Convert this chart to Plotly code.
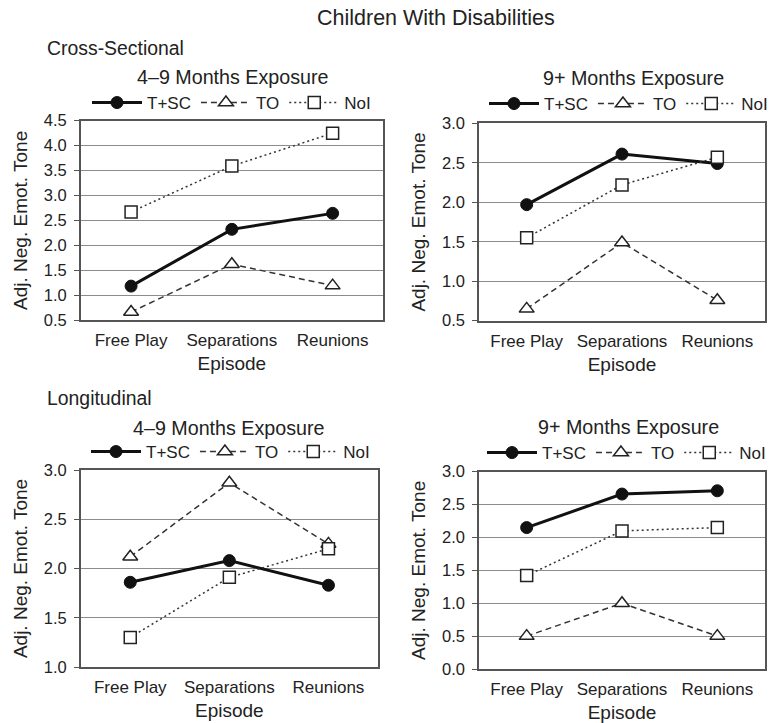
import plotly.graph_objects as go

W, H = 775, 723

episodes = ["Free Play", "Separations", "Reunions"]
series_names = ["T+SC", "TO", "NoI"]

# Cross-sectional, 4-9 months exposure
cs_4_9_tsc = [1.18, 2.32, 2.64]
cs_4_9_to = [0.66, 1.62, 1.19]
cs_4_9_noi = [2.67, 3.59, 4.25]
# Cross-sectional, 9+ months exposure
cs_9p_tsc = [1.97, 2.61, 2.49]
cs_9p_to = [0.65, 1.49, 0.76]
cs_9p_noi = [1.55, 2.22, 2.57]
# Longitudinal, 4-9 months exposure
lg_4_9_tsc = [1.86, 2.08, 1.83]
lg_4_9_to = [2.12, 2.87, 2.25]
lg_4_9_noi = [1.30, 1.91, 2.20]
# Longitudinal, 9+ months exposure
lg_9p_tsc = [2.15, 2.66, 2.71]
lg_9p_to = [0.50, 1.00, 0.50]
lg_9p_noi = [1.42, 2.10, 2.15]

main_title = "Children With Disabilities"
section_titles = ["Cross-Sectional", "Longitudinal"]
panel_titles = ["4\u20139 Months Exposure", "9+ Months Exposure",
                "4\u20139 Months Exposure", "9+ Months Exposure"]
y_title = "Adj. Neg. Emot. Tone"
x_title = "Episode"

panels = [
    (cs_4_9_tsc, cs_4_9_to, cs_4_9_noi, (0.5, 4.5)),
    (cs_9p_tsc, cs_9p_to, cs_9p_noi, (0.5, 3.0)),
    (lg_4_9_tsc, lg_4_9_to, lg_4_9_noi, (1.0, 3.0)),
    (lg_9p_tsc, lg_9p_to, lg_9p_noi, (0.0, 3.0)),
]

# pixel boxes (left, right, top, bottom) of each plot area
boxes = [
    (80.7, 383, 120.7, 320),
    (479, 765, 123.3, 320.7),
    (80.7, 378, 470, 667),
    (479, 765, 471.7, 669),
]
legend_pos = [(87, 103), (484, 104), (86, 452), (482, 453)]
ptitle_pos = [(233, 77), (633, 78), (229, 428), (628, 427)]

FONT = "Liberation Sans, Arial, Helvetica, sans-serif"
TXT = "#222222"
AX = "#555555"

fig = go.Figure()

styles = [
    dict(line=dict(color="#111111", width=3, dash="solid"),
         marker=dict(symbol="circle", size=12, color="#111111",
                     line=dict(color="#111111", width=1))),
    dict(line=dict(color="#333333", width=1.5, dash="6px,4px"),
         marker=dict(symbol="triangle-up", size=13, color="white",
                     line=dict(color="#222222", width=1.5))),
    dict(line=dict(color="#333333", width=1.5, dash="2px,3px"),
         marker=dict(symbol="square", size=12, color="white",
                     line=dict(color="#222222", width=1.5))),
]

layout = {}
annotations = []
for i, (tsc, to, noi, yr) in enumerate(panels):
    n = "" if i == 0 else str(i + 1)
    leg = "legend" if i == 0 else f"legend{i+1}"
    for name, vals, st in zip(series_names, [tsc, to, noi], styles):
        fig.add_trace(go.Scatter(
            x=episodes, y=vals, name=name, mode="lines+markers",
            xaxis="x" + n, yaxis="y" + n, legend=leg,
            line=st["line"], marker=st["marker"], cliponaxis=False))
    l, r, t, b = boxes[i]
    layout["xaxis" + n] = dict(
        domain=[l / W, r / W], anchor="y" + n, type="category",
        range=[-0.5, 2.5], showgrid=False, showline=True, mirror=True,
        linecolor=AX, linewidth=1.5, ticks="", tickangle=0, automargin=False,
        tickfont=dict(size=17, color=TXT), ticklabelstandoff=4,
        title=dict(text=x_title, font=dict(size=19, color=TXT), standoff=8),
        fixedrange=True)
    layout["yaxis" + n] = dict(
        domain=[1 - b / H, 1 - t / H], anchor="x" + n, range=list(yr),
        dtick=0.5, tick0=0, tickformat=".1f", showgrid=True,
        gridcolor="#8c8c8c", gridwidth=1, zeroline=False, showline=True,
        mirror=True, linecolor=AX, linewidth=1.5, ticks="outside",
        ticklen=5, tickcolor=AX, tickfont=dict(size=16.5, color=TXT),
        ticklabelstandoff=4, automargin=False,
        title=dict(text=y_title, font=dict(size=19, color=TXT), standoff=11),
        fixedrange=True)
    lx, ly = legend_pos[i]
    layout[leg] = dict(
        orientation="h", x=lx / W, y=1 - ly / H, xanchor="left",
        yanchor="middle", xref="paper", yref="paper",
        font=dict(size=17, color=TXT), bgcolor="rgba(0,0,0,0)",
        itemwidth=50, tracegroupgap=0)
    px, py = ptitle_pos[i]
    annotations.append(dict(
        text=panel_titles[i], x=px / W, y=1 - py / H, xref="paper",
        yref="paper", xanchor="center", yanchor="middle", showarrow=False,
        font=dict(size=19.7, color=TXT)))

annotations.append(dict(text=main_title, x=436 / W, y=1 - 18 / H,
                        xref="paper", yref="paper", xanchor="center",
                        yanchor="middle", showarrow=False,
                        font=dict(size=21.5, color=TXT)))
annotations.append(dict(text=section_titles[0], x=45 / W, y=1 - 48 / H,
                        xref="paper", yref="paper", xanchor="left",
                        yanchor="middle", showarrow=False,
                        font=dict(size=19.4, color=TXT)))
annotations.append(dict(text=section_titles[1], x=45 / W, y=1 - 398 / H,
                        xref="paper", yref="paper", xanchor="left",
                        yanchor="middle", showarrow=False,
                        font=dict(size=19.4, color=TXT)))

fig.update_layout(
    width=W, height=H,
    margin=dict(l=0, r=0, t=0, b=0, autoexpand=False),
    paper_bgcolor="white", plot_bgcolor="white",
    font=dict(family=FONT, color=TXT),
    showlegend=True,
    annotations=annotations,
    **layout)

fig.write_html("out.html",
               config={"displayModeBar": False},
               post_script="document.body.style.margin='0';")
